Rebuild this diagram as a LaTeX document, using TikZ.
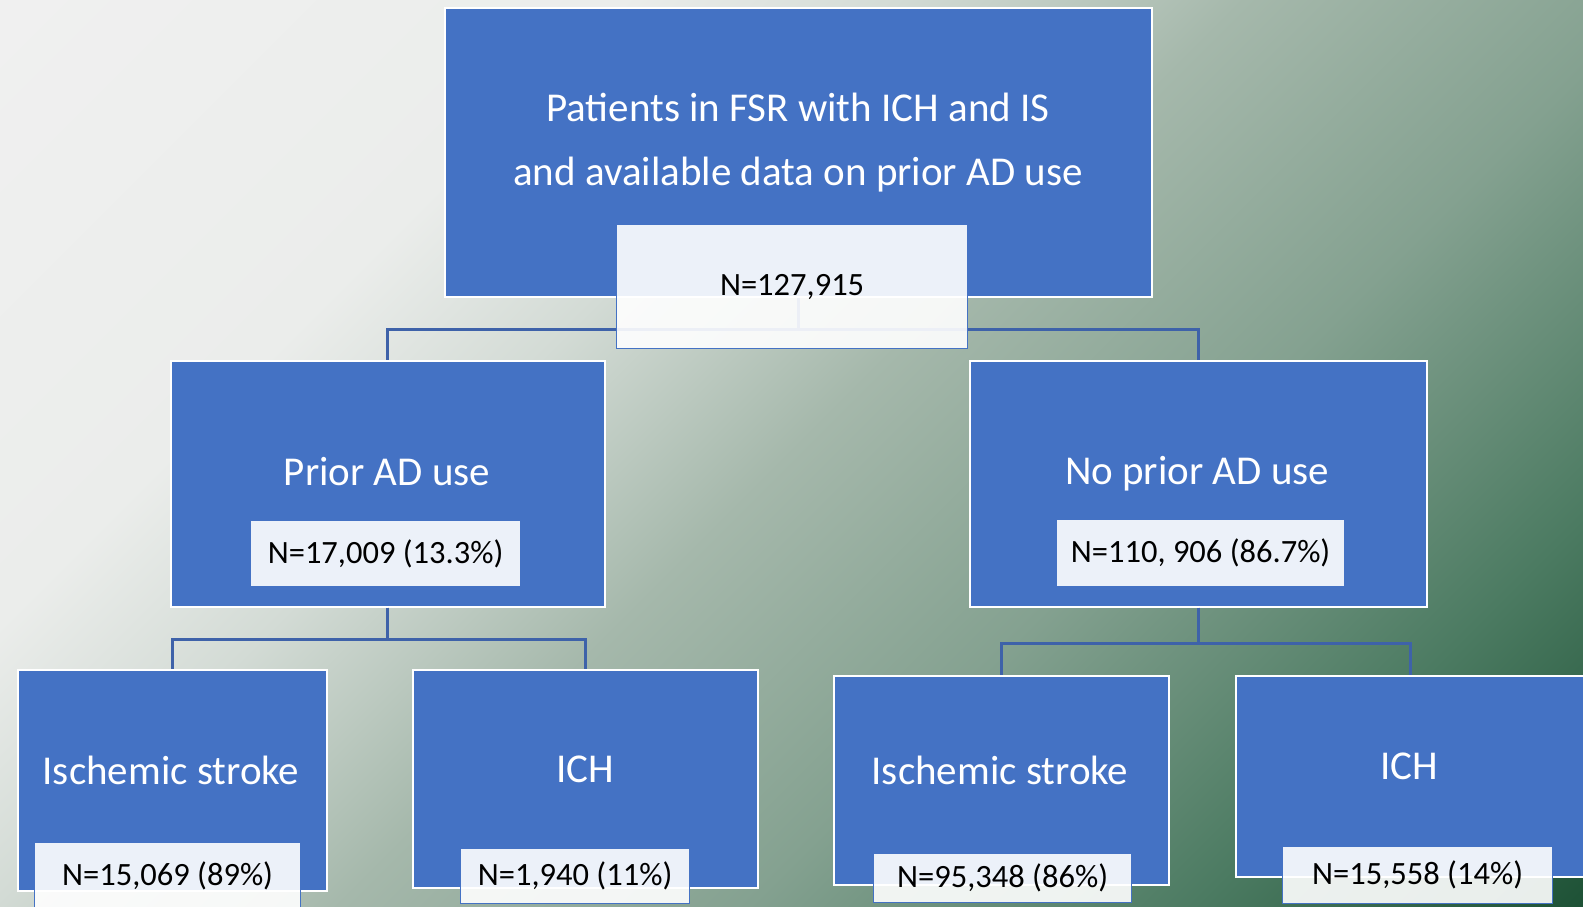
\documentclass[tikz,border=0pt]{standalone}
\usepackage{fontspec}
\setmainfont{Carlito}
\definecolor{boxblue}{HTML}{4472C4}
\definecolor{linkblue}{HTML}{3E62A9}
\definecolor{bgA}{HTML}{F0F0F0}
\definecolor{bgB}{HTML}{EBEDEB}
\definecolor{bgC}{HTML}{D3DBD5}
\definecolor{bgD}{HTML}{A5B8AB}
\definecolor{bgE}{HTML}{84A190}
\definecolor{bgF}{HTML}{4C7B62}
\definecolor{bgG}{HTML}{1E5236}
\pgfdeclareverticalshading{bgshade}{100bp}{color(0bp)=(bgG); color(14.6bp)=(bgG); color(25.6bp)=(bgF); color(38.3bp)=(bgE); color(50bp)=(bgD); color(59.9bp)=(bgC); color(67.7bp)=(bgB); color(85.4bp)=(bgA); color(100bp)=(bgA)}
\tikzset{
	box/.style={rectangle, fill=boxblue, draw=white, line width=1.5pt, anchor=north west, inner sep=0pt},
	title/.style={text=white, font=\fontsize{41}{64}\selectfont, align=center},
	count/.style={rectangle, fill=white, fill opacity=0.9, text opacity=1, draw=boxblue, line width=1.2pt, anchor=north west, inner sep=0pt, font=\fontsize{32.5}{38}\selectfont},
	link/.style={draw=linkblue, line width=3pt},
}

\begin{document}
\begin{tikzpicture}[x=1pt, y=-1pt]
		%%%%% START %%%%%
		
		\useasboundingbox (0, 0) rectangle (1583, 906);
		\shade[shading=bgshade, shading angle=45] (0, 0) rectangle (1583, 906);
		
		\node[box, minimum width=707, minimum height=289] (all) at (444, 7) {};
		\node[box, minimum width=434, minimum height=246] (prior) at (170, 360) {};
		\node[box, minimum width=457, minimum height=246] (noprior) at (969, 360) {};
		\node[box, minimum width=309, minimum height=221] (isprior) at (17, 669) {};
		\node[box, minimum width=345, minimum height=218] (ichprior) at (412, 669) {};
		\node[box, minimum width=335, minimum height=209] (isno) at (833, 675) {};
		\node[box, minimum width=350, minimum height=201] (ichno) at (1235, 675) {};
		
		\draw[link] (all.south) -- ++(0, 32) -| (prior.north);
		\draw[link] (all.south) -- ++(0, 32) -| (noprior.north);
		\draw[link] (prior.south) -- ++(0, 32) -| (isprior.north);
		\draw[link] (prior.south) -- ++(0, 32) -| (ichprior.north);
		\draw[link] (noprior.south) -- ++(0, 36) -| (isno.north);
		\draw[link] (noprior.south) -- ++(0, 36) -| (ichno.north);
		
		\node[title] (alltext) at (798, 143) {Patients in FSR with ICH and IS\\and available data on prior AD use};
		\node[title] (priortext) at (387, 472) {Prior AD use};
		\node[title] (noprortext) at (1197, 474) {No prior AD use};
		\node[title] (ispriortext) at (171, 770) {Ischemic stroke};
		\node[title] (ichpriortext) at (585, 769) {ICH};
		\node[title] (isnotext) at (1000, 770) {Ischemic stroke};
		\node[title] (ichnotext) at (1409, 766) {ICH};
		
		\node[count, minimum width=351, minimum height=124] (allcount) at (616, 224) {N=127,915};
		\node[count, minimum width=270, minimum height=66] (priorcount) at (250, 520) {N=17,009 (13.3\%)};
		\node[count, minimum width=288, minimum height=67] (noprorcount) at (1056, 519) {N=110, 906 (86.7\%)};
		\node[count, minimum width=266, minimum height=66] (ispriorcount) at (34, 842) {N=15,069 (89\%)};
		\node[count, minimum width=229, minimum height=55] (ichpriorcount) at (460, 848) {N=1,940 (11\%)};
		\node[count, minimum width=258, minimum height=49] (isnocount) at (873, 853) {N=95,348 (86\%)};
		\node[count, minimum width=270, minimum height=57] (ichnocount) at (1282, 846) {N=15,558 (14\%)};
		
		%%%%% END %%%%%
\end{tikzpicture}
\end{document}
